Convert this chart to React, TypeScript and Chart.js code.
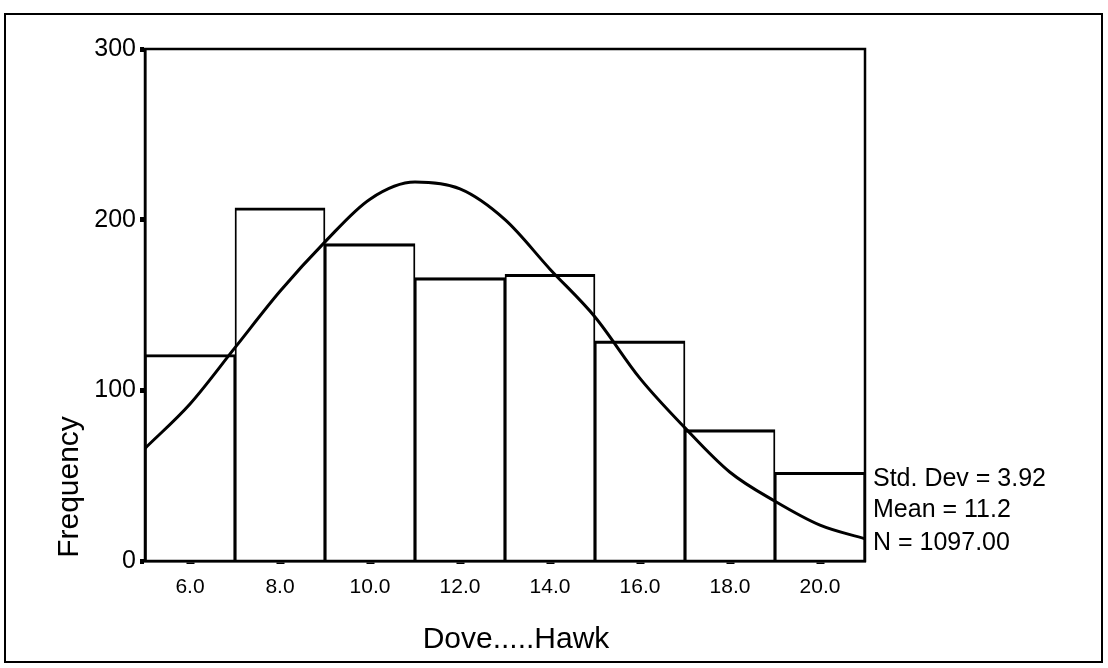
import React, { useEffect, useRef } from "react";
import { Chart, registerables } from "chart.js";

Chart.register(...registerables);

// Histogram bins (midpoints) and their frequencies
const binCenters = [6, 8, 10, 12, 14, 16, 18, 20];
const frequencies = [121, 207, 186, 166, 168, 129, 77, 52];

// Fitted normal curve
const curveX = [5, 6, 7, 8, 9, 10, 11, 12, 13, 14, 15, 16, 17, 18, 19, 20, 21];
const curveY = [66, 92, 125, 158, 187, 212, 222, 218, 200, 171, 143, 107, 78, 52, 35, 21, 13];

// Axis ticks
const xTickValues = [6, 8, 10, 12, 14, 16, 18, 20];
const yTickValues = [0, 100, 200, 300];

// Texts
const xTitle = "Dove.....Hawk";
const yTitle = "Frequency";
const statsLines = ["Std. Dev = 3.92", "Mean = 11.2", "N = 1097.00"];

const FONT = "'Liberation Sans', Arial, sans-serif";

export default function App() {
  const ref = useRef<HTMLCanvasElement>(null);

  useEffect(() => {
    document.body.style.margin = "0";
    const canvas = ref.current;
    if (!canvas) return;

    const decor = {
      id: "decor",
      beforeDraw(chart: any) {
        const ctx = chart.ctx;
        ctx.save();
        ctx.fillStyle = "#ffffff";
        ctx.fillRect(0, 0, chart.width, chart.height);
        ctx.restore();
      },
      afterDraw(chart: any) {
        const ctx = chart.ctx;
        const a = chart.chartArea;
        ctx.save();
        ctx.strokeStyle = "#000";
        // outer frame
        ctx.lineWidth = 2;
        ctx.strokeRect(5, 14, 1097, 648);
        // plot frame
        ctx.lineWidth = 2.5;
        ctx.strokeRect(a.left, a.top, a.right - a.left, a.bottom - a.top);

        ctx.fillStyle = "#000";
        // x title
        ctx.font = `30px ${FONT}`;
        ctx.textAlign = "center";
        ctx.textBaseline = "alphabetic";
        ctx.fillText(xTitle, 516, 648);
        // y title
        ctx.save();
        ctx.translate(78, 487);
        ctx.rotate(-Math.PI / 2);
        ctx.textAlign = "center";
        ctx.fillText(yTitle, 0, 0);
        ctx.restore();
        // stats
        ctx.font = `25px ${FONT}`;
        ctx.textAlign = "left";
        const baselines = [486, 517, 550];
        statsLines.forEach((s, i) => ctx.fillText(s, a.right + 8, baselines[i]));
        ctx.restore();
      },
    };

    const chart = new Chart(canvas, {
      type: "bar",
      data: {
        datasets: [
          {
            type: "line",
            data: curveX.map((x, i) => ({ x, y: curveY[i] })),
            borderColor: "#000",
            borderWidth: 3,
            pointRadius: 0,
            fill: false,
            cubicInterpolationMode: "monotone",
            order: 1,
          } as any,
          {
            type: "bar",
            data: binCenters.map((x, i) => ({ x, y: frequencies[i] })),
            backgroundColor: "rgba(255,255,255,0)",
            borderColor: "#000",
            borderWidth: { top: 2.5, left: 1.25, right: 1.25, bottom: 0 },
            barPercentage: 1,
            categoryPercentage: 1,
            order: 2,
          } as any,
        ],
      },
      options: {
        responsive: false,
        animation: false,
        devicePixelRatio: 1,
        layout: { padding: { top: 49, right: 243, left: 0, bottom: 0 } },
        plugins: {
          legend: { display: false },
          tooltip: { enabled: false },
          title: { display: false },
        },
        scales: {
          x: {
            type: "linear",
            min: 5,
            max: 21,
            offset: false,
            afterBuildTicks: (s: any) => {
              s.ticks = xTickValues.map((v) => ({ value: v }));
            },
            afterFit: (s: any) => {
              s.height = 107;
            },
            ticks: {
              autoSkip: false,
              maxRotation: 0,
              padding: 11,
              color: "#000",
              font: { family: FONT, size: 21 },
              callback: (v: any) => Number(v).toFixed(1),
            },
            grid: {
              display: true,
              drawOnChartArea: false,
              drawTicks: true,
              tickLength: 3,
              tickWidth: 8,
              tickColor: "#000",
              offset: false,
            },
            border: { display: true, color: "#000", width: 2.5 },
          },
          y: {
            type: "linear",
            min: 0,
            max: 300,
            afterBuildTicks: (s: any) => {
              s.ticks = yTickValues.map((v) => ({ value: v }));
            },
            afterFit: (s: any) => {
              s.width = 145;
            },
            ticks: {
              padding: 4,
              color: "#000",
              font: { family: FONT, size: 25 },
            },
            grid: {
              display: true,
              drawOnChartArea: false,
              drawTicks: true,
              tickLength: 5,
              tickWidth: 5,
              tickColor: "#000",
            },
            border: { display: true, color: "#000", width: 2.5 },
          },
        },
      },
      plugins: [decor],
    } as any);

    return () => chart.destroy();
  }, []);

  return (
    <div style={{ width: 1108, height: 668, position: "relative", background: "#fff" }}>
      <canvas ref={ref} width={1108} height={668} style={{ display: "block" }} />
    </div>
  );
}
